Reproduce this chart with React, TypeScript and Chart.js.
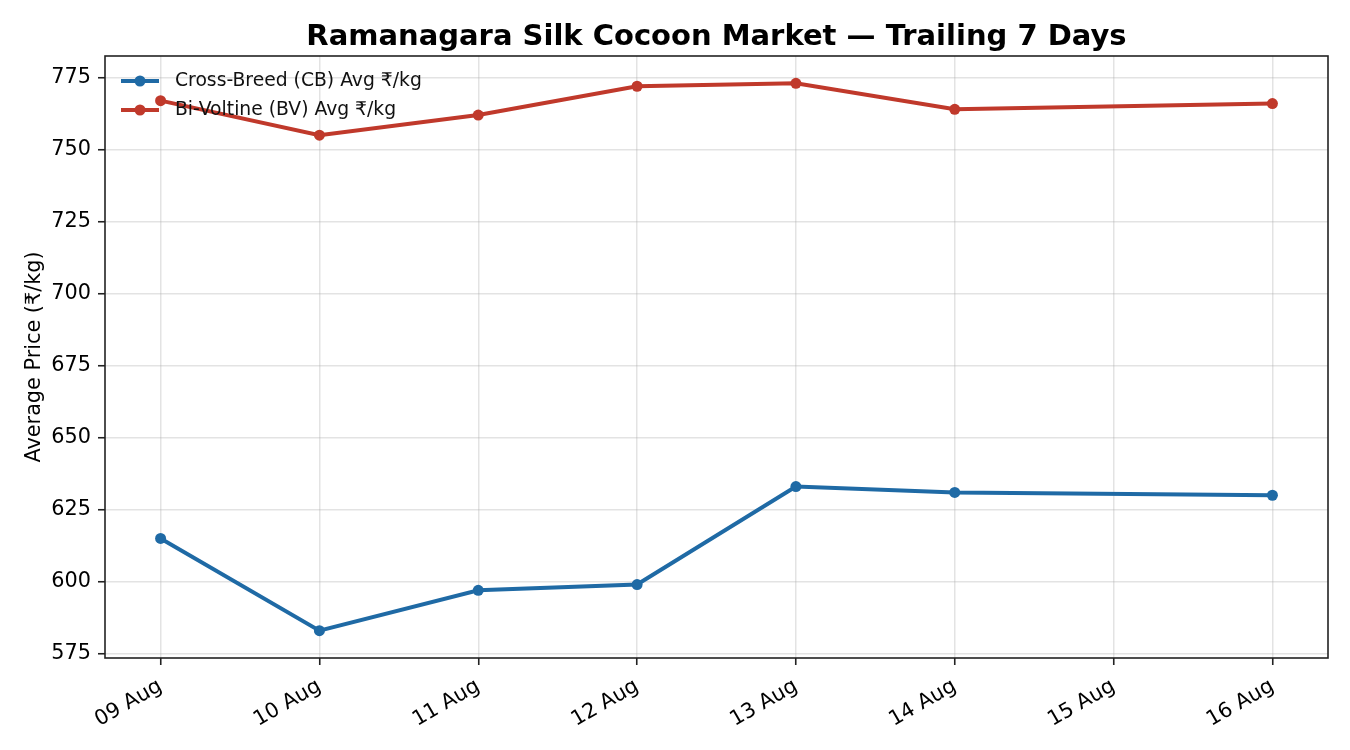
import React, { useEffect, useRef } from "react";
import { Chart, registerables } from "chart.js";

Chart.register(...registerables);

const TITLE = "Ramanagara Silk Cocoon Market — Trailing 7 Days";
const Y_TITLE = "Average Price (₹/kg)";

const dates = ["2024-08-09", "2024-08-10", "2024-08-11", "2024-08-12", "2024-08-13", "2024-08-14", "2024-08-16"];
const tickDates = ["2024-08-09", "2024-08-10", "2024-08-11", "2024-08-12", "2024-08-13", "2024-08-14", "2024-08-15", "2024-08-16"];
const tickLabels = ["09 Aug", "10 Aug", "11 Aug", "12 Aug", "13 Aug", "14 Aug", "15 Aug", "16 Aug"];
const cbLabel = "Cross-Breed (CB) Avg ₹/kg";
const bvLabel = "Bi-Voltine (BV) Avg ₹/kg";
const cbValues = [615, 583, 597, 599, 633, 631, 630];
const bvValues = [767, 755, 762, 772, 773, 764, 766];
const yTicks = [575, 600, 625, 650, 675, 700, 725, 750, 775];

const CB_COLOR = "#1f6aa5";
const BV_COLOR = "#c0392b";
const FONT = '"DejaVu Sans", "Noto Sans", sans-serif';

const dayNum = (d: string) => Date.parse(d + "T00:00:00Z") / 86400000;

export default function App() {
  const ref = useRef<HTMLCanvasElement | null>(null);

  useEffect(() => {
    if (!ref.current) return;
    const xs = dates.map(dayNum);
    const tickXs = tickDates.map(dayNum);
    const xMinD = Math.min(...xs), xMaxD = Math.max(...xs);
    const xPad = (xMaxD - xMinD) * 0.05;
    const allY = [...cbValues, ...bvValues];
    const yMinD = Math.min(...allY), yMaxD = Math.max(...allY);
    const yPad = (yMaxD - yMinD) * 0.05;

    const frameAndText = {
      id: "frameAndText",
      afterDraw(chart: any) {
        const { ctx, chartArea } = chart;
        ctx.save();
        // frame
        ctx.strokeStyle = "#222";
        ctx.lineWidth = 1.6;
        ctx.strokeRect(chartArea.left, chartArea.top, chartArea.right - chartArea.left, chartArea.bottom - chartArea.top);
        // title
        ctx.fillStyle = "#000";
        ctx.font = `bold 29px ${FONT}`;
        ctx.textAlign = "center";
        ctx.textBaseline = "alphabetic";
        ctx.fillText(TITLE, (chartArea.left + chartArea.right) / 2, 45);
        // legend
        const items = chart.data.datasets;
        items.forEach((ds: any, i: number) => {
          const y = chartArea.top + 25 + i * 29;
          const x0 = chartArea.left + 16;
          ctx.strokeStyle = ds.borderColor;
          ctx.lineWidth = 4;
          ctx.beginPath();
          ctx.moveTo(x0, y);
          ctx.lineTo(x0 + 38, y);
          ctx.stroke();
          ctx.fillStyle = ds.borderColor;
          ctx.beginPath();
          ctx.arc(x0 + 19, y, 5.5, 0, Math.PI * 2);
          ctx.fill();
          ctx.fillStyle = "#111";
          ctx.font = `18.75px ${FONT}`;
          ctx.textAlign = "left";
          ctx.textBaseline = "middle";
          ctx.fillText(ds.label, x0 + 54, y);
        });
        ctx.restore();
      },
    };

    const chart = new Chart(ref.current, {
      type: "line",
      data: {
        datasets: [
          {
            label: cbLabel,
            data: xs.map((x, i) => ({ x, y: cbValues[i] })),
            borderColor: CB_COLOR,
            backgroundColor: CB_COLOR,
            borderWidth: 4,
            pointRadius: 5.5,
            pointBorderWidth: 0,
            pointBackgroundColor: CB_COLOR,
            tension: 0,
          },
          {
            label: bvLabel,
            data: xs.map((x, i) => ({ x, y: bvValues[i] })),
            borderColor: BV_COLOR,
            backgroundColor: BV_COLOR,
            borderWidth: 4,
            pointRadius: 5.5,
            pointBorderWidth: 0,
            pointBackgroundColor: BV_COLOR,
            tension: 0,
          },
        ],
      },
      options: {
        responsive: false,
        animation: false,
        devicePixelRatio: 1,
        layout: { padding: { top: 56, right: 22, left: 0, bottom: 0 } },
        plugins: {
          legend: { display: false },
          title: { display: false },
          tooltip: { enabled: false },
        },
        scales: {
          x: {
            type: "linear",
            min: xMinD - xPad,
            max: xMaxD + xPad,
            afterBuildTicks: (scale: any) => {
              scale.ticks = tickXs.map((v) => ({ value: v }));
            },
            afterFit: (scale: any) => {
              scale.height = 92;
            },
            border: { display: false },
            grid: {
              color: "rgba(176,176,176,0.35)",
              lineWidth: 1.5,
              tickLength: 7,
              tickColor: "#222",
              tickWidth: 1.6,
            },
            ticks: {
              autoSkip: false,
              minRotation: 30,
              maxRotation: 30,
              padding: 9,
              color: "#000",
              font: { family: FONT, size: 20.8 },
              callback: (v: any) => {
                const idx = tickXs.findIndex((t) => Math.abs(t - Number(v)) < 1e-6);
                return idx >= 0 ? tickLabels[idx] : "";
              },
            },
          },
          y: {
            type: "linear",
            min: yMinD - yPad,
            max: yMaxD + yPad,
            afterBuildTicks: (scale: any) => {
              scale.ticks = yTicks.map((v) => ({ value: v }));
            },
            afterFit: (scale: any) => {
              scale.width = 105;
            },
            border: { display: false },
            grid: {
              color: "rgba(176,176,176,0.35)",
              lineWidth: 1.5,
              tickLength: 7,
              tickColor: "#222",
              tickWidth: 1.6,
            },
            ticks: {
              padding: 7,
              color: "#000",
              font: { family: FONT, size: 20.8 },
              callback: (v: any) => String(v),
            },
            title: {
              display: true,
              text: Y_TITLE,
              color: "#000",
              font: { family: FONT, size: 20.8 },
              padding: { top: 22, bottom: 0 },
            },
          },
        },
      },
      plugins: [frameAndText],
    } as any);
    return () => chart.destroy();
  }, []);

  return (
    <div style={{ position: "absolute", left: 0, top: 0, width: 1350, height: 750, background: "#fff" }}>
      <canvas ref={ref} width={1350} height={750} />
    </div>
  );
}
